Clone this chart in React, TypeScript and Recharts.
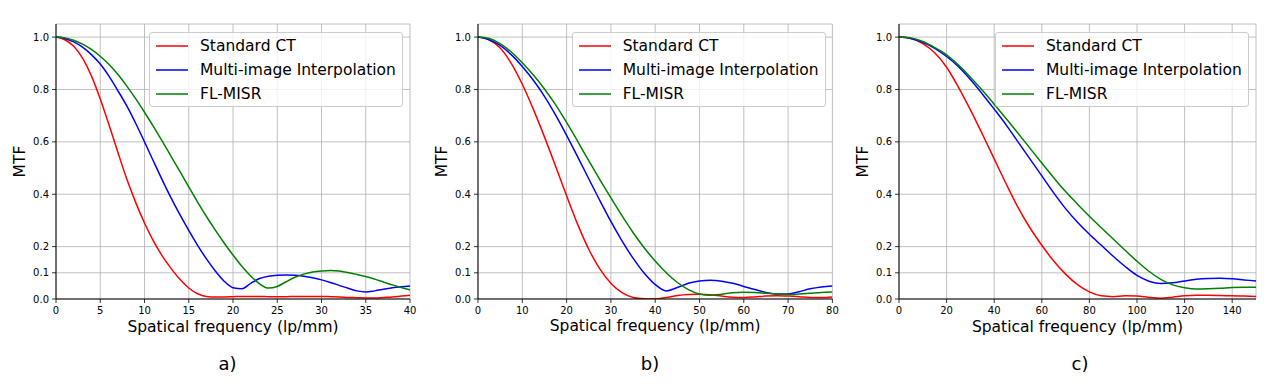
import { LineChart, Line, XAxis, YAxis, CartesianGrid, Legend, Label } from 'recharts';

const FONT = '"DejaVu Sans", "Liberation Sans", sans-serif';

const seriesNames = ['Standard CT', 'Multi-image Interpolation', 'FL-MISR'];
const seriesColors = ['#ff0000', '#0000ff', '#008000'];
const yTicks = [0, 0.1, 0.2, 0.4, 0.6, 0.8, 1.0];

// a) 0-40 lp/mm
const freqA = [0, 1, 2, 3, 4, 5, 6, 7, 8, 9, 10, 11, 12, 13, 14, 15, 16, 17, 18, 19, 20, 21, 22, 23, 24, 25, 26, 27, 28, 29, 30, 31, 32, 33, 34, 35, 36, 37, 38, 39, 40];
const standardA = [1.0, 0.99, 0.965, 0.92, 0.852, 0.764, 0.664, 0.559, 0.458, 0.369, 0.29, 0.222, 0.165, 0.117, 0.075, 0.042, 0.02, 0.01, 0.008, 0.008, 0.009, 0.01, 0.01, 0.01, 0.009, 0.009, 0.009, 0.01, 0.01, 0.01, 0.01, 0.009, 0.008, 0.006, 0.005, 0.004, 0.004, 0.006, 0.008, 0.011, 0.014];
const interpA = [1.0, 0.995, 0.982, 0.962, 0.933, 0.897, 0.85, 0.795, 0.737, 0.671, 0.6, 0.527, 0.455, 0.386, 0.322, 0.262, 0.205, 0.153, 0.107, 0.068, 0.043, 0.039, 0.06, 0.078, 0.087, 0.091, 0.092, 0.091, 0.087, 0.081, 0.073, 0.063, 0.052, 0.041, 0.031, 0.027, 0.031, 0.037, 0.043, 0.047, 0.05];
const misrA = [1.0, 0.997, 0.988, 0.973, 0.953, 0.927, 0.895, 0.857, 0.813, 0.765, 0.713, 0.659, 0.603, 0.545, 0.487, 0.428, 0.37, 0.315, 0.263, 0.214, 0.168, 0.125, 0.088, 0.058, 0.042, 0.048, 0.066, 0.083, 0.095, 0.103, 0.107, 0.109, 0.107, 0.101, 0.094, 0.086, 0.076, 0.065, 0.054, 0.044, 0.035];
const ticksA = [0, 5, 10, 15, 20, 25, 30, 35, 40];

// b) 0-80 lp/mm
const freqB = [0, 2.5, 5, 7.5, 10, 12.5, 15, 17.5, 20, 22.5, 25, 27.5, 30, 32.5, 35, 37.5, 40, 42.5, 45, 47.5, 50, 52.5, 55, 57.5, 60, 62.5, 65, 67.5, 70, 72.5, 75, 77.5, 80];
const standardB = [1.0, 0.99, 0.958, 0.9, 0.82, 0.724, 0.619, 0.508, 0.394, 0.285, 0.19, 0.115, 0.06, 0.024, 0.006, 0.001, 0.0, 0.006, 0.013, 0.017, 0.018, 0.016, 0.011, 0.007, 0.006, 0.008, 0.011, 0.012, 0.011, 0.009, 0.006, 0.006, 0.008];
const interpB = [1.0, 0.99, 0.968, 0.933, 0.888, 0.835, 0.774, 0.703, 0.625, 0.543, 0.459, 0.376, 0.296, 0.222, 0.156, 0.099, 0.055, 0.031, 0.044, 0.06, 0.069, 0.072, 0.068, 0.06, 0.048, 0.036, 0.025, 0.019, 0.019, 0.028, 0.039, 0.046, 0.05];
const misrB = [1.0, 0.995, 0.975, 0.943, 0.902, 0.855, 0.802, 0.742, 0.674, 0.602, 0.528, 0.456, 0.386, 0.318, 0.254, 0.196, 0.145, 0.1, 0.063, 0.036, 0.019, 0.014, 0.018, 0.024, 0.026, 0.025, 0.022, 0.019, 0.017, 0.019, 0.022, 0.025, 0.027];
const ticksB = [0, 10, 20, 30, 40, 50, 60, 70, 80];

// c) 0-150 lp/mm
const freqC = [0, 5, 10, 15, 20, 25, 30, 35, 40, 45, 50, 55, 60, 65, 70, 75, 80, 85, 90, 95, 100, 105, 110, 115, 120, 125, 130, 135, 140, 145, 150];
const standardC = [1.0, 0.995, 0.975, 0.94, 0.885, 0.808, 0.722, 0.63, 0.535, 0.44, 0.35, 0.272, 0.205, 0.145, 0.095, 0.055, 0.027, 0.012, 0.009, 0.012, 0.011, 0.006, 0.003, 0.007, 0.012, 0.014, 0.014, 0.013, 0.012, 0.011, 0.01];
const interpC = [1.0, 0.995, 0.98, 0.957, 0.926, 0.887, 0.838, 0.783, 0.725, 0.665, 0.6, 0.535, 0.47, 0.405, 0.345, 0.293, 0.247, 0.205, 0.163, 0.124, 0.09, 0.068, 0.059, 0.062, 0.069, 0.075, 0.078, 0.079, 0.077, 0.073, 0.069];
const misrC = [1.0, 0.997, 0.983, 0.96, 0.932, 0.893, 0.847, 0.797, 0.744, 0.689, 0.633, 0.576, 0.519, 0.463, 0.41, 0.362, 0.316, 0.272, 0.229, 0.186, 0.144, 0.106, 0.075, 0.054, 0.043, 0.038, 0.039, 0.041, 0.044, 0.045, 0.045];
const ticksC = [0, 20, 40, 60, 80, 100, 120, 140];

const Y_AXIS_W = 56;
const CHART_H = 340;

function LegendBox({ payload }: any) {
  const items = [...(payload ?? [])].sort(
    (a: any, b: any) => seriesNames.indexOf(a.value) - seriesNames.indexOf(b.value)
  );
  return (
    <div
      style={{
        boxSizing: 'border-box',
        width: 254,
        height: 75,
        border: '1px solid #cccccc',
        borderRadius: 3,
        background: 'rgba(255,255,255,0.8)',
        paddingTop: 2,
        fontFamily: FONT,
        fontSize: 15.5,
        color: '#000',
      }}
    >
      {items.map((e: any) => (
        <div key={e.value} style={{ display: 'flex', alignItems: 'center', height: 23.6 }}>
          <svg width={32} height={4} style={{ marginLeft: 6, marginRight: 12, flex: 'none' }}>
            <line x1={0} y1={2} x2={32} y2={2} stroke={e.color} strokeWidth={1.5} />
          </svg>
          <span style={{ whiteSpace: 'nowrap' }}>{e.value}</span>
        </div>
      ))}
    </div>
  );
}

type PanelProps = {
  freq: number[];
  standard: number[];
  interp: number[];
  misr: number[];
  xMax: number;
  xTicks: number[];
  left: number;
  plotWidth: number;
  caption: string;
  captionX: number;
};

function Panel({ freq, standard, interp, misr, xMax, xTicks, left, plotWidth, caption, captionX }: PanelProps) {
  const rows = freq.map((f, i) => ({ f, standard: standard[i], interp: interp[i], misr: misr[i] }));
  const right = 10;
  const width = Y_AXIS_W + plotWidth + right;
  const tick = { fontSize: 10, fill: '#000', fontFamily: FONT };
  return (
    <>
      <div style={{ position: 'absolute', left, top: 0 }}>
        <LineChart width={width} height={CHART_H} data={rows} margin={{ top: 24, right, bottom: 11, left: 0 }}>
          <CartesianGrid stroke="#b0b0b0" strokeWidth={0.8} />
          <XAxis
            dataKey="f"
            type="number"
            domain={[0, xMax]}
            ticks={xTicks}
            interval={0}
            allowDataOverflow
            height={30}
            tickSize={4}
            tickMargin={4}
            tick={tick}
            axisLine={{ stroke: '#000', strokeWidth: 1 }}
            tickLine={{ stroke: '#000', strokeWidth: 0.8 }}
          >
            <Label
              content={({ viewBox }: any) => (
                <text
                  x={viewBox.x + viewBox.width / 2}
                  y={viewBox.y + 32.5}
                  textAnchor="middle"
                  fontSize={15.5}
                  fontFamily={FONT}
                  fill="#000"
                >
                  Spatical frequency (lp/mm)
                </text>
              )}
            />
          </XAxis>
          <XAxis xAxisId="top" orientation="top" type="number" domain={[0, xMax]} height={0} tick={false} tickLine={false} axisLine={{ stroke: '#000', strokeWidth: 1 }} />
          <YAxis
            type="number"
            domain={[0, 1.05]}
            ticks={yTicks}
            interval={0}
            allowDataOverflow
            width={Y_AXIS_W}
            tickSize={4}
            tickMargin={3}
            tick={tick}
            tickFormatter={(v: number) => v.toFixed(1)}
            axisLine={{ stroke: '#000', strokeWidth: 1 }}
            tickLine={{ stroke: '#000', strokeWidth: 0.8 }}
          >
            <Label
              content={({ viewBox }: any) => {
                const x = viewBox.x + 25;
                const y = viewBox.y + viewBox.height / 2;
                return (
                  <text x={x} y={y} transform={`rotate(-90, ${x}, ${y})`} textAnchor="middle" fontSize={15.5} fontFamily={FONT} fill="#000">
                    MTF
                  </text>
                );
              }}
            />
          </YAxis>
          <YAxis yAxisId="right" orientation="right" domain={[0, 1.05]} width={0} tick={false} tickLine={false} axisLine={{ stroke: '#000', strokeWidth: 1 }} />
          <Legend
            layout="vertical"
            align="center"
            verticalAlign="middle"
            wrapperStyle={{ left: Y_AXIS_W + plotWidth - 261, top: 31.7, width: 254, height: 75 }}
            content={LegendBox}
          />
          <Line type="monotone" dataKey="standard" name={seriesNames[0]} stroke={seriesColors[0]} strokeWidth={1.5} dot={false} isAnimationActive={false} />
          <Line type="monotone" dataKey="interp" name={seriesNames[1]} stroke={seriesColors[1]} strokeWidth={1.5} dot={false} isAnimationActive={false} />
          <Line type="monotone" dataKey="misr" name={seriesNames[2]} stroke={seriesColors[2]} strokeWidth={1.5} dot={false} isAnimationActive={false} />
        </LineChart>
      </div>
      <div
        style={{
          position: 'absolute',
          left: captionX - 30,
          width: 60,
          top: 354.8,
          textAlign: 'center',
          fontSize: 18,
          lineHeight: '18px',
          fontFamily: FONT,
          color: '#000',
        }}
      >
        {caption}
      </div>
    </>
  );
}

export default function App() {
  return (
    <div style={{ position: 'absolute', left: 0, top: 0, width: 1279, height: 387, background: '#fff', fontFamily: FONT }}>
      <Panel freq={freqA} standard={standardA} interp={interpA} misr={misrA} xMax={40} xTicks={ticksA} left={0} plotWidth={354} caption="a)" captionX={227.5} />
      <Panel freq={freqB} standard={standardB} interp={interpB} misr={misrB} xMax={80} xTicks={ticksB} left={422.3} plotWidth={354.4} caption="b)" captionX={650} />
      <Panel freq={freqC} standard={standardC} interp={interpC} misr={misrC} xMax={150} xTicks={ticksC} left={843} plotWidth={357} caption="c)" captionX={1080} />
    </div>
  );
}
